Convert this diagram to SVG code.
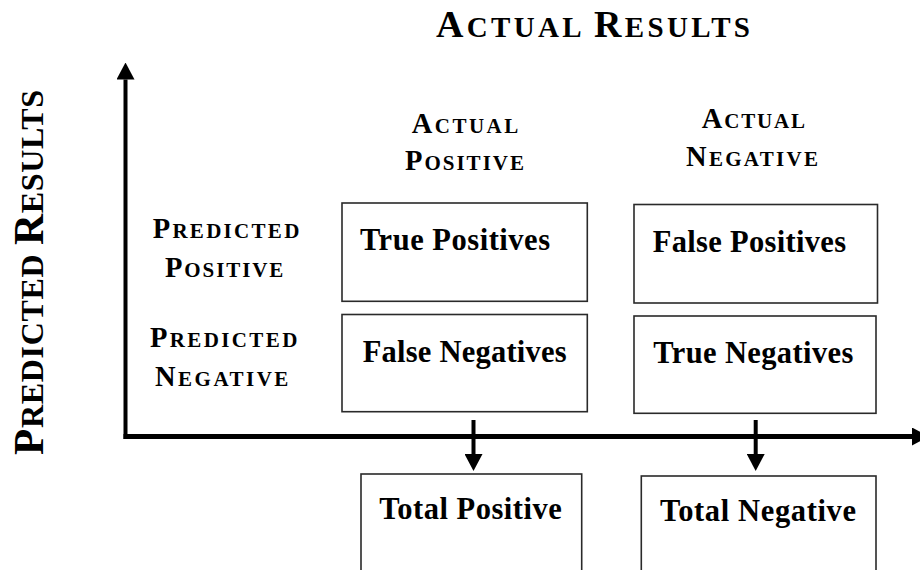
<svg xmlns="http://www.w3.org/2000/svg" width="920" height="570" viewBox="0 0 920 570">
  <style>
    text { font-family: "Liberation Serif", "Times New Roman", serif; font-weight: bold; fill: #000; }
    .cell { fill: #fff; stroke: #2a2a2a; stroke-width: 1.6; }
    .cell-text { font-size: 30.5px; }
    .hdr { font-size: 28.5px; }
    .hdr .sc { font-size: 21px; }
    .axis { stroke: #000; fill: none; }
  </style>
  <defs>
    <marker id="head" markerUnits="userSpaceOnUse" markerWidth="17" markerHeight="18" viewBox="0 0 17 18" refX="0" refY="9" orient="auto">
      <path d="M0,0 L17,9 L0,18 Z" fill="#000"/>
    </marker>
  </defs>

  <rect width="920" height="570" fill="#fff"/>

  <!-- titles -->
  <g id="title-actual">
    <text x="436" y="37" textLength="314" lengthAdjust="spacing" font-size="38">A<tspan font-size="29">CTUAL </tspan>R<tspan font-size="29">ESULTS</tspan></text>
  </g>
  <g id="title-predicted">
    <text transform="translate(42.7,455) rotate(-90)" x="0" y="0" textLength="365" lengthAdjust="spacing" font-size="43">P<tspan font-size="32">REDICTED </tspan>R<tspan font-size="32">ESULTS</tspan></text>
  </g>

  <!-- column headers -->
  <g id="col-actual-positive" class="hdr">
    <text x="411.7" y="133.3" textLength="106.6" lengthAdjust="spacing">A<tspan class="sc">CTUAL</tspan></text>
    <text x="405" y="170" textLength="119" lengthAdjust="spacing">P<tspan class="sc">OSITIVE</tspan></text>
  </g>
  <g id="col-actual-negative" class="hdr">
    <text x="701.7" y="128.3" textLength="103.3" lengthAdjust="spacing">A<tspan class="sc">CTUAL</tspan></text>
    <text x="686" y="165.7" textLength="132" lengthAdjust="spacing">N<tspan class="sc">EGATIVE</tspan></text>
  </g>

  <!-- row headers -->
  <g id="row-predicted-positive" class="hdr">
    <text x="152.7" y="238.3" textLength="146.6" lengthAdjust="spacing">P<tspan class="sc">REDICTED</tspan></text>
    <text x="165" y="277.3" textLength="118.3" lengthAdjust="spacing">P<tspan class="sc">OSITIVE</tspan></text>
  </g>
  <g id="row-predicted-negative" class="hdr">
    <text x="150" y="346.7" textLength="147.3" lengthAdjust="spacing">P<tspan class="sc">REDICTED</tspan></text>
    <text x="155" y="385.7" textLength="133.3" lengthAdjust="spacing">N<tspan class="sc">EGATIVE</tspan></text>
  </g>

  <!-- matrix cells -->
  <g id="true-positives">
    <rect class="cell" x="342" y="203" width="245.3" height="98.3"/>
    <text class="cell-text" x="360" y="250" textLength="190" lengthAdjust="spacing">True Positives</text>
  </g>
  <g id="false-positives">
    <rect class="cell" x="634" y="204.5" width="243.5" height="98.5"/>
    <text class="cell-text" x="652.7" y="251.7" textLength="193.3" lengthAdjust="spacing">False Positives</text>
  </g>
  <g id="false-negatives">
    <rect class="cell" x="342" y="314.5" width="245.3" height="97.2"/>
    <text class="cell-text" x="362.7" y="361.7" textLength="204" lengthAdjust="spacing">False Negatives</text>
  </g>
  <g id="true-negatives">
    <rect class="cell" x="634" y="316" width="242" height="97.3"/>
    <text class="cell-text" x="653.3" y="363.3" textLength="200" lengthAdjust="spacing">True Negatives</text>
  </g>

  <!-- totals -->
  <g id="total-positive">
    <rect class="cell" x="361" y="474" width="220.7" height="110"/>
    <text class="cell-text" x="379.3" y="519" textLength="182.4" lengthAdjust="spacing">Total Positive</text>
  </g>
  <g id="total-negative">
    <rect class="cell" x="641.3" y="476" width="234.7" height="110"/>
    <text class="cell-text" x="660" y="520.7" textLength="196" lengthAdjust="spacing">Total Negative</text>
  </g>

  <!-- axes and arrows -->
  <g id="connectors">
    <line class="axis" x1="125.5" y1="439" x2="125.5" y2="79.5" stroke-width="4" marker-end="url(#head)"/>
    <line class="axis" x1="123.5" y1="436.5" x2="912" y2="436.5" stroke-width="5" marker-end="url(#head)"/>
    <line class="axis" x1="473.5" y1="420" x2="473.5" y2="454" stroke-width="4" marker-end="url(#head)"/>
    <line class="axis" x1="755.7" y1="420" x2="755.7" y2="454" stroke-width="4" marker-end="url(#head)"/>
  </g>
</svg>
